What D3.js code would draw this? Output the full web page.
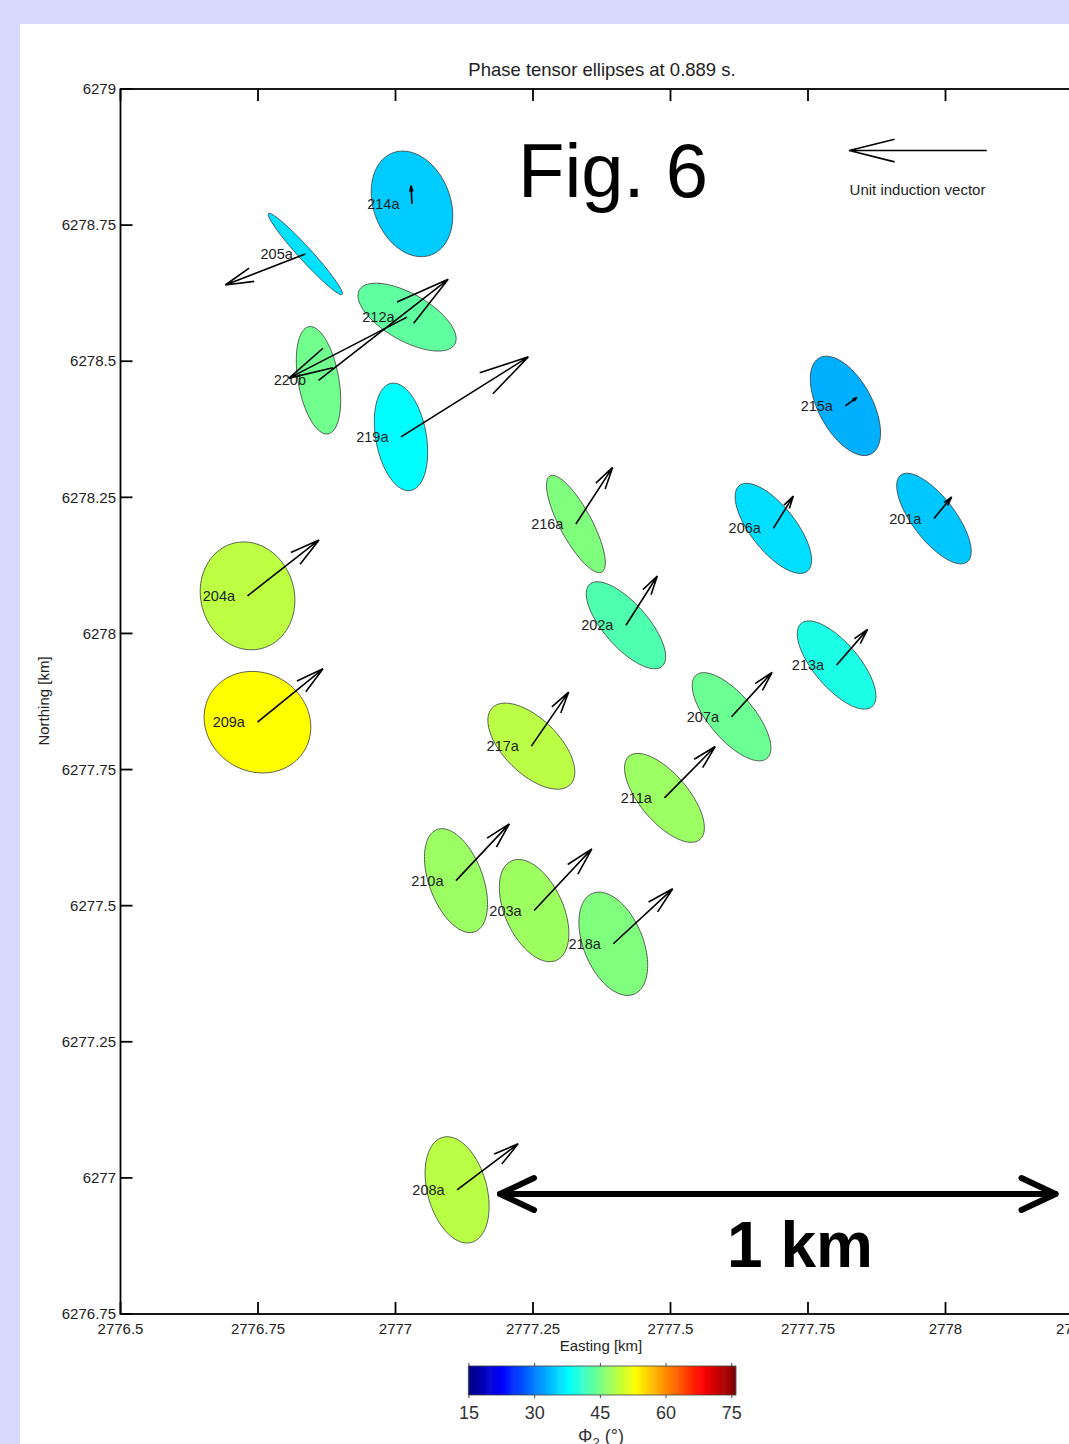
<!DOCTYPE html>
<html>
<head>
<meta charset="utf-8">
<script src="https://cdn.jsdelivr.net/npm/d3@7"></script>
<style>
  html, body { margin: 0; padding: 0; background: #d8d8fc; }
  svg { display: block; }
  text { font-family: "Liberation Sans", Arial, Helvetica, sans-serif; }
</style>
</head>
<body>
<svg id="chart" width="1069" height="1444"></svg>
<script>
// ---- station data ----
const stations = ["214a","205a","212a","220b","219a","204a","209a","216a","202a","215a",
                  "206a","201a","213a","207a","217a","211a","210a","203a","218a","208a"];
const easting  = [2777.030, 2776.836, 2777.021, 2776.860, 2777.010, 2776.731, 2776.749, 2777.328, 2777.419, 2777.818,
                  2777.687, 2777.979, 2777.802, 2777.611, 2777.247, 2777.489, 2777.110, 2777.252, 2777.396, 2777.112];
const northing = [6278.789, 6278.697, 6278.581, 6278.465, 6278.361, 6278.069, 6277.837, 6278.201, 6278.015, 6278.418,
                  6278.193, 6278.211, 6277.942, 6277.847, 6277.793, 6277.698, 6277.546, 6277.491, 6277.430, 6276.978];
// Φ2 (degrees) used for the ellipse fill colour
const phi2      = [34.7, 35.9, 43.5, 44.5, 37.6, 49.0, 53.0, 45.4, 42.5, 33.0,
                   35.8, 34.4, 39.3, 44.2, 48.9, 47.1, 47.0, 47.2, 45.4, 48.8];
// ratio of minor to major ellipse axis
const axisRatio = [0.70, 0.12, 0.43, 0.37, 0.46, 0.85, 0.90, 0.29, 0.40, 0.49,
                   0.41, 0.39, 0.41, 0.41, 0.50, 0.44, 0.49, 0.53, 0.54, 0.54];
// major axis rotation west of north (degrees)
const strike    = [20, 42, 60, 10, 10, 15, 56, 28, 41, 28,
                   38, 37, 40, 40, 45, 40, 20, 24, 22, 15];
// real induction vector components (east, north)
const indEast   = [-0.007, -0.582, -0.858, 0.943, 0.926, 0.520, 0.477, 0.267, 0.228, 0.084,
                    0.145,  0.129,  0.225, 0.295, 0.271, 0.369, 0.388, 0.420, 0.432, 0.444];
const indNorth  = [ 0.134, -0.228, -0.448, 0.742, 0.588, 0.411, 0.392, 0.416, 0.362, 0.062,
                    0.237,  0.159,  0.262, 0.326, 0.397, 0.377, 0.417, 0.453, 0.404, 0.338];

const xTicks  = [2776.5, 2776.75, 2777, 2777.25, 2777.5, 2777.75, 2778, 2778.25];
const yTicks  = [6276.75, 6277, 6277.25, 6277.5, 6277.75, 6278, 6278.25, 6278.5, 6278.75, 6279];
const cbTicks = [15, 30, 45, 60, 75];
const cbRange = [14.85, 75.9];

// ---- drawing constants ----
const MAJOR = 0.1;     // semi-major axis of every ellipse (km)
const UNIT  = 0.25;    // map length of a unit induction vector (km)
const ALPHA = 0.33, BETA = 0.25;   // arrow head length / width factors

const svg = d3.select("#chart");

// white figure panel
svg.append("rect").attr("x", 20).attr("y", 24).attr("width", 1100).attr("height", 1500).attr("fill", "#ffffff");

const x = d3.scaleLinear().domain([2776.5, 2778.25]).range([120.5, 1083]);
const y = d3.scaleLinear().domain([6276.75, 6279]).range([1314, 89]);

// jet colour map
const jet = d3.scaleLinear()
  .domain([0, 1/8, 3/8, 5/8, 7/8, 1])
  .range(["#000080", "#0000ff", "#00ffff", "#ffff00", "#ff0000", "#800000"])
  .clamp(true);
const colorOf = v => jet((v - cbRange[0]) / (cbRange[1] - cbRange[0]));

const textCol = "#222";

// title
svg.append("text").attr("x", 602).attr("y", 75.5).attr("text-anchor", "middle")
  .attr("font-size", 18.5).attr("fill", textCol).text("Phase tensor ellipses at 0.889 s.");

// ---- ellipses ----
const line = d3.line().curve(d3.curveLinearClosed);
const gEll = svg.append("g");
stations.forEach((s, i) => {
  const phi = strike[i] * Math.PI / 180;
  const a = MAJOR, b = MAJOR * axisRatio[i];
  const pts = d3.range(0, 96).map(k => {
    const t = k / 96 * 2 * Math.PI;
    const dE = a * Math.cos(t) * (-Math.sin(phi)) + b * Math.sin(t) * Math.cos(phi);
    const dN = a * Math.cos(t) * Math.cos(phi) + b * Math.sin(t) * Math.sin(phi);
    return [x(easting[i] + dE), y(northing[i] + dN)];
  });
  gEll.append("path").attr("d", line(pts))
    .attr("fill", colorOf(phi2[i])).attr("stroke", "#3a3a3a").attr("stroke-width", 0.8);
});

// ---- station labels ----
const gLab = svg.append("g");
stations.forEach((s, i) => {
  gLab.append("text").attr("x", x(easting[i]) - 12.5).attr("y", y(northing[i]))
    .attr("dy", "0.35em").attr("text-anchor", "end")
    .attr("font-size", 14.5).attr("fill", textCol).text(s);
});

// ---- arrows ----
function arrow(g, x0, y0, x1, y1) {
  const dx = x1 - x0, dy = y1 - y0;
  const bx1 = x1 - ALPHA * (dx + BETA * dy), by1 = y1 - ALPHA * (dy - BETA * dx);
  const bx2 = x1 - ALPHA * (dx - BETA * dy), by2 = y1 - ALPHA * (dy + BETA * dx);
  g.append("path")
    .attr("d", `M${x0},${y0}L${x1},${y1}M${bx1},${by1}L${x1},${y1}L${bx2},${by2}`)
    .attr("fill", "none").attr("stroke", "#000").attr("stroke-width", 1.6)
    .attr("stroke-linejoin", "miter");
}
const gArr = svg.append("g");
stations.forEach((s, i) => {
  arrow(gArr, x(easting[i]), y(northing[i]),
        x(easting[i] + UNIT * indEast[i]), y(northing[i] + UNIT * indNorth[i]));
});

// legend: unit induction vector
const legE = 2778.075, legN = 6278.887;
arrow(svg, x(legE), y(legN), x(legE - UNIT), y(legN));
svg.append("text").attr("x", 917.5).attr("y", 195).attr("text-anchor", "middle")
  .attr("font-size", 15).attr("fill", textCol).text("Unit induction vector");

// ---- axes frame and ticks ----
const gAx = svg.append("g");
gAx.append("rect").attr("x", x(2776.5)).attr("y", y(6279))
  .attr("width", x(2778.25) - x(2776.5)).attr("height", y(6276.75) - y(6279))
  .attr("fill", "none").attr("stroke", "#000").attr("stroke-width", 1.8);
const TL = 12;
xTicks.forEach(t => {
  gAx.append("line").attr("x1", x(t)).attr("x2", x(t)).attr("y1", y(6279)).attr("y2", y(6279) + TL)
    .attr("stroke", "#000").attr("stroke-width", 1.8);
  gAx.append("line").attr("x1", x(t)).attr("x2", x(t)).attr("y1", y(6276.75)).attr("y2", y(6276.75) - TL)
    .attr("stroke", "#000").attr("stroke-width", 1.8);
  gAx.append("text").attr("x", x(t)).attr("y", 1333.5).attr("text-anchor", "middle")
    .attr("font-size", 15).attr("fill", textCol).text(d3.format("")(t));
});
yTicks.forEach(t => {
  gAx.append("line").attr("x1", x(2776.5)).attr("x2", x(2776.5) + TL).attr("y1", y(t)).attr("y2", y(t))
    .attr("stroke", "#000").attr("stroke-width", 1.8);
  gAx.append("text").attr("x", 116).attr("y", y(t)).attr("dy", "0.35em").attr("text-anchor", "end")
    .attr("font-size", 15).attr("fill", textCol).text(d3.format("")(t));
});
gAx.append("text").attr("x", 601).attr("y", 1351).attr("text-anchor", "middle")
  .attr("font-size", 15).attr("fill", textCol).text("Easting [km]");
gAx.append("text").attr("transform", "translate(49,701) rotate(-90)").attr("text-anchor", "middle")
  .attr("font-size", 15).attr("fill", textCol).text("Northing [km]");

// ---- annotations ----
svg.append("text").attr("x", 613).attr("y", 197).attr("text-anchor", "middle")
  .attr("font-size", 76).attr("fill", "#000").text("Fig. 6");

// 1 km scale bar
const sb0 = x(2777.19), sb1 = x(2778.2), sbY = 1194;
const gSb = svg.append("g").attr("fill", "none").attr("stroke", "#000").attr("stroke-width", 6)
  .attr("stroke-linecap", "round").attr("stroke-linejoin", "round");
gSb.append("line").attr("x1", sb0).attr("x2", sb1).attr("y1", sbY).attr("y2", sbY);
gSb.append("path").attr("d", `M${sb0 + 34},${sbY - 16}L${sb0},${sbY}L${sb0 + 34},${sbY + 16}`);
gSb.append("path").attr("d", `M${sb1 - 34},${sbY - 16}L${sb1},${sbY}L${sb1 - 34},${sbY + 16}`);
svg.append("text").attr("x", 800).attr("y", 1267).attr("text-anchor", "middle")
  .attr("font-size", 64).attr("font-weight", "bold").attr("fill", "#000").text("1 km");

// ---- colour bar ----
const cb = d3.scaleLinear().domain(cbRange).range([468.3, 735.7]);
const cbTop = 1366, cbH = 29;
const gCb = svg.append("g");
const N = 256;
d3.range(N).forEach(k => {
  const v0 = cbRange[0] + (cbRange[1] - cbRange[0]) * k / N;
  const v1 = cbRange[0] + (cbRange[1] - cbRange[0]) * (k + 1) / N;
  gCb.append("rect").attr("x", cb(v0)).attr("y", cbTop).attr("width", cb(v1) - cb(v0) + 0.6).attr("height", cbH)
    .attr("fill", colorOf((v0 + v1) / 2));
});
gCb.append("rect").attr("x", cb(cbRange[0])).attr("y", cbTop).attr("width", cb(cbRange[1]) - cb(cbRange[0]))
  .attr("height", cbH).attr("fill", "none").attr("stroke", "#444").attr("stroke-width", 0.8);
cbTicks.forEach(t => {
  gCb.append("line").attr("x1", cb(t)).attr("x2", cb(t)).attr("y1", cbTop - 3).attr("y2", cbTop)
    .attr("stroke", "#444").attr("stroke-width", 1);
  gCb.append("line").attr("x1", cb(t)).attr("x2", cb(t)).attr("y1", cbTop + cbH).attr("y2", cbTop + cbH + 3)
    .attr("stroke", "#444").attr("stroke-width", 1);
  gCb.append("text").attr("x", cb(t)).attr("y", 1419).attr("text-anchor", "middle")
    .attr("font-size", 18).attr("fill", "#333").text(t);
});
const cbLab = gCb.append("text").attr("x", 601).attr("y", 1442).attr("text-anchor", "middle")
  .attr("font-size", 18).attr("fill", "#333");
cbLab.append("tspan").text("Φ");
cbLab.append("tspan").attr("font-size", 13).attr("dy", 5).text("2");
cbLab.append("tspan").attr("dy", -5).text(" (°)");
</script>
</body>
</html>
